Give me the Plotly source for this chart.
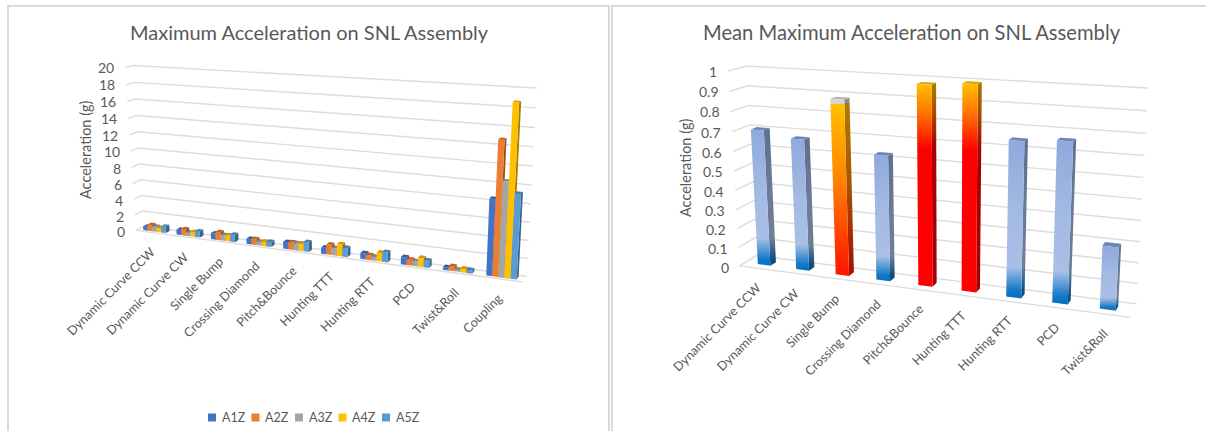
import numpy as np
import plotly.graph_objects as go

# ---------- data ----------
max_categories = ["Dynamic Curve CCW", "Dynamic Curve CW", "Single Bump", "Crossing Diamond",
                  "Pitch&Bounce", "Hunting TTT", "Hunting RTT", "PCD", "Twist&Roll", "Coupling"]
A1Z = [0.50, 0.65, 0.75, 0.65, 0.85, 0.75, 0.70, 0.85, 0.30, 8.5]
A2Z = [0.80, 0.80, 1.00, 0.70, 0.90, 1.20, 0.55, 0.65, 0.50, 14.8]
A3Z = [0.65, 0.45, 0.70, 0.45, 0.85, 0.85, 0.45, 0.55, 0.20, 10.5]
A4Z = [0.55, 0.60, 0.75, 0.55, 0.90, 1.40, 1.00, 1.00, 0.40, 18.7]
A5Z = [0.80, 0.75, 0.90, 0.60, 1.15, 1.05, 1.15, 0.80, 0.35, 9.3]
max_series = {"A1Z": A1Z, "A2Z": A2Z, "A3Z": A3Z, "A4Z": A4Z, "A5Z": A5Z}
max_ticks = list(range(0, 21, 2))

mean_categories = max_categories[:9]
mean_values = [0.705, 0.675, 0.885, 0.63, 0.98, 0.995, 0.75, 0.765, 0.30]
mean_ticks = [0, 0.1, 0.2, 0.3, 0.4, 0.5, 0.6, 0.7, 0.8, 0.9, 1]
mean_tick_labels = ["0", "0.1", "0.2", "0.3", "0.4", "0.5", "0.6", "0.7", "0.8", "0.9", "1"]
mean_styles = ["blue", "blue", "amber", "blue", "red", "red", "blue", "blue", "blue"]

# ---------- styles ----------
W, H = 1206, 431
TXT = "#595959"
GRID = "#dcdcdc"
FONT = "Lato, Carlito, Calibri, sans-serif"
series_colors = {"A1Z": "#4472C4", "A2Z": "#ED7D31", "A3Z": "#A5A5A5", "A4Z": "#FFC000", "A5Z": "#5B9BD5"}


def shade(c, f):
    c = c.lstrip("#")
    return "#%02x%02x%02x" % tuple(int(int(c[i:i + 2], 16) * f) for i in (0, 2, 4))


def scale_shade(cs, f):
    return [[p, shade(c, f)] for p, c in cs]


def fit_camera(pairs):
    rows = []
    for (X, Y, Z), (u, v) in pairs:
        rows.append([X, Y, Z, 1, 0, 0, 0, 0, -u * X, -u * Y, -u * Z, -u])
        rows.append([0, 0, 0, 0, X, Y, Z, 1, -v * X, -v * Y, -v * Z, -v])
    return np.linalg.svd(np.array(rows, float))[2][-1].reshape(3, 4)


def project(P, X, Y, Z):
    h = P @ np.vstack([X, Y, Z, np.ones_like(np.asarray(X, float))])
    return h[0] / h[2], H - h[1] / h[2]


cam_left = fit_camera([((0, 1, 1), (131.7, 65.7)), ((1, 1, 1), (537, 88)), ((1, 1, 0), (526.7, 276.7)),
                       ((0, 1, 0), (145, 226)), ((0, 0, 0), (135, 230.7)), ((1, 0, 0), (523, 281.7)),
                       ((0, 0, 1), (126, 67.7))])
cam_right = fit_camera([((0, 1, 1), (747, 66)), ((1, 1, 1), (1148, 88)), ((1, 1, 0), (1136.7, 304)),
                        ((0, 1, 0), (756, 255.5)), ((0, 0, 0), (740, 266)), ((1, 0, 0), (1130, 317.3)),
                        ((0, 0, 1), (728, 71))])

fig = go.Figure()
annots = []


def face(P, corners, name, color=None, gradient=None, group=None):
    pts = np.array(corners + corners[:1], float).T
    x, y = project(P, pts[0], pts[1], pts[2])
    kw = dict(fillgradient=gradient) if gradient else dict(fillcolor=color)
    fig.add_trace(go.Scatter(x=x, y=y, mode="lines", fill="toself", line=dict(width=0, color="rgba(0,0,0,0)"),
                             name=name, showlegend=False, hoverinfo="name", **kw))


def bar(P, x0, x1, y0, y1, z, name, front=None, side=None, top=None):
    face(P, [(x1, y0, 0), (x1, y1, 0), (x1, y1, z), (x1, y0, z)], name, **side)
    face(P, [(x0, y0, z), (x1, y0, z), (x1, y1, z), (x0, y1, z)], name, **top)
    face(P, [(x0, y0, 0), (x1, y0, 0), (x1, y0, z), (x0, y0, z)], name, **front)


def walls(P, ticks, labels, zmax, tick_dx, label_dy, title_xy, title, categories, group):
    xs, ys = [], []
    for t in ticks:
        z = t / zmax
        a = project(P, [0, 0, 1], [0, 1, 1], [z, z, z])
        xs += list(a[0]) + [None]
        ys += list(a[1]) + [None]
        px, py = project(P, [0], [0], [z])
        annots.append(dict(x=px[0] + tick_dx, y=py[0] - 1.5 * (1 - z), text=labels[ticks.index(t)], xanchor="right",
                           yanchor="middle", font=dict(size=14, color=TXT)))
    a = project(P, [0, 1], [0, 0], [0, 0])
    xs += list(a[0]) + [None]
    ys += list(a[1]) + [None]
    fig.add_trace(go.Scatter(x=xs, y=ys, mode="lines", line=dict(color=GRID, width=1.4), hoverinfo="skip",
                             showlegend=False, name=group + " gridlines"))
    n = len(categories)
    for i, c in enumerate(categories):
        px, py = project(P, [(i + 0.5) / n], [0], [0])
        annots.append(dict(x=px[0] + 8, y=py[0] - label_dy, text=c, textangle=-45, xanchor="right", yanchor="top",
                           font=dict(size=12.6, color=TXT)))
    annots.append(dict(x=title_xy[0], y=H - title_xy[1], text=title, textangle=-90, xanchor="center", yanchor="middle",
                       font=dict(size=14.5, color=TXT)))


# ---------- left chart ----------
walls(cam_left, max_ticks, [str(t) for t in max_ticks], 20, -9, 9, (85, 150), "Acceleration (g)", max_categories,
      "Maximum")
n = len(max_categories)
names = list(max_series)
cluster = 0.68
bw = cluster / len(names) / n
for i in range(n):
    for s, nm in enumerate(names):
        v = max_series[nm][i]
        x0 = (i + 0.5) / n - cluster / n / 2 + s * bw
        col = series_colors[nm]
        bar(cam_left, x0, x0 + bw, 0.25, 0.75, v / 20, nm,
            front=dict(color=col), side=dict(color=shade(col, 0.65)), top=dict(color=shade(col, 0.8)))

# legend for the left chart
for k, nm in enumerate(names):
    fig.add_trace(go.Scatter(x=[212 + 43.5 * k], y=[H - 417.5], mode="markers", name=nm, showlegend=False,
                             marker=dict(symbol="square", size=8, color=series_colors[nm])))
    annots.append(dict(x=219.5 + 43.5 * k, y=H - 417.5, text=nm, xanchor="left", yanchor="middle",
                       font=dict(size=12.5, color=TXT)))

# ---------- right chart ----------
walls(cam_right, mean_ticks, mean_tick_labels, 1, -9, 9, (685, 168), "Acceleration (g)", mean_categories, "Mean")
gradients = {
    "blue": [[0, "#0070C0"], [0.05, "#1478C8"], [0.2, "#A9BFE6"], [0.55, "#A3BAE3"], [1, "#8EA9DB"]],
    "red": [[0, "#FF0000"], [0.68, "#FF0000"], [0.85, "#FF7000"], [1, "#FFC000"]],
    "amber": [[0, "#FF1500"], [0.12, "#FF2A00"], [0.55, "#FF8500"], [0.97, "#FFC000"], [0.971, "#D5D5D5"], [1, "#D5D5D5"]],
}
top_colors = {"blue": "#6E86B6", "red": "#D9A300", "amber": "#BFB5B0"}
n = len(mean_categories)
bw = 0.33 / n
for i, (v, st, c) in enumerate(zip(mean_values, mean_styles, mean_categories)):
    x0 = (i + 0.5) / n - bw / 2
    cs = gradients[st]
    bar(cam_right, x0, x0 + bw, 0.33, 0.67, v, c,
        front=dict(gradient=dict(type="vertical", colorscale=cs)),
        side=dict(gradient=dict(type="vertical", colorscale=scale_shade(cs, 0.66))),
        top=dict(color=top_colors[st]))

# ---------- titles ----------
annots.append(dict(x=309, y=H - 32, text="Maximum Acceleration on SNL Assembly", xanchor="center", yanchor="middle",
                   font=dict(size=20, color=TXT)))
annots.append(dict(x=912, y=H - 32, text="Mean Maximum Acceleration on SNL Assembly", xanchor="center", yanchor="middle",
                   font=dict(size=20.2, color=TXT)))

panel = dict(type="rect", xref="x", yref="y", line=dict(color="#d9d9d9", width=2), layer="below")
shapes = [dict(panel, x0=8, x1=609, y0=H - 6, y1=-5), dict(panel, x0=612, x1=1212, y0=H - 6, y1=-5)]

for a in annots:
    a.update(xref="x", yref="y", showarrow=False)

fig.update_layout(
    width=W, height=H, margin=dict(l=0, r=0, t=0, b=0), paper_bgcolor="white", plot_bgcolor="white",
    font=dict(family=FONT, color=TXT), showlegend=False, annotations=annots, shapes=shapes,
    xaxis=dict(range=[0, W], visible=False, fixedrange=True),
    yaxis=dict(range=[0, H], visible=False, fixedrange=True),
)
fig.write_html("out.html", config={"displayModeBar": False},
               post_script="document.body.style.margin='0';document.body.style.overflow='hidden';")
